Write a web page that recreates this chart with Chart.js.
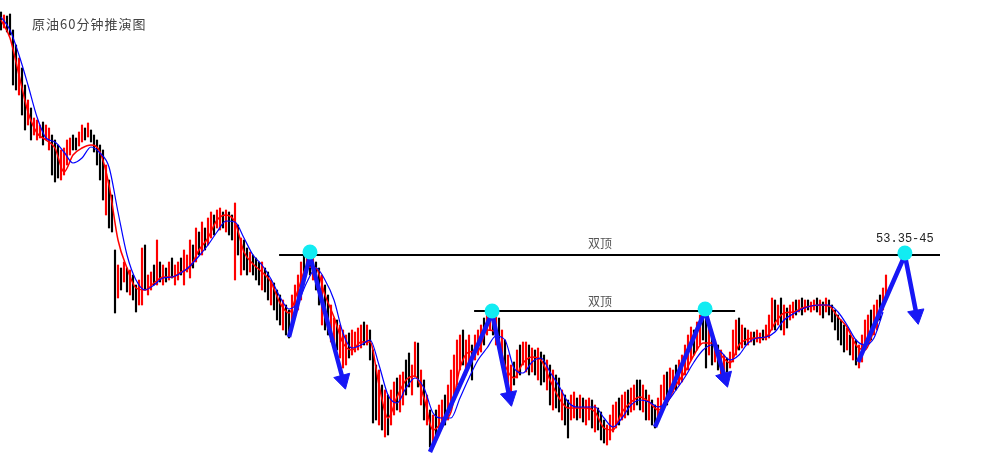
<!DOCTYPE html>
<html>
<head>
<meta charset="utf-8">
<script src="https://cdn.jsdelivr.net/npm/chart.js@4"></script>
<style>
html, body { margin: 0; padding: 0; background: #fff; }
#chart { display: block; }
</style>
</head>
<body>
<canvas id="chart" width="982" height="458"></canvas>
<script>
// 60 minute bars, high / low per bar
var barHigh = [55.78,55.75,55.74,55.76,55.60,55.45,55.32,55.22,55.05,54.90,
54.82,54.72,54.70,54.65,54.68,54.65,54.62,54.55,54.50,54.45,
54.40,54.42,54.50,54.52,54.55,54.52,54.58,54.65,54.62,54.67,
54.60,54.55,54.50,54.45,54.40,54.25,54.10,53.95,53.40,53.25,
53.22,53.28,53.22,53.20,53.15,53.05,53.10,53.42,53.45,53.15,
53.18,53.25,53.50,53.28,53.25,53.22,53.28,53.32,53.25,53.28,
53.32,53.40,53.35,53.50,53.45,53.62,53.58,53.68,53.62,53.72,
53.78,53.75,53.80,53.82,53.78,53.80,53.78,53.75,53.87,53.65,
53.52,53.50,53.42,53.38,53.35,53.32,53.28,53.28,53.22,53.18,
53.10,53.07,53.00,52.95,52.90,52.85,52.80,52.95,53.05,53.15,
53.28,53.35,53.38,53.40,53.32,53.28,53.22,53.15,53.05,52.95,
52.85,52.72,52.70,52.65,52.60,52.55,52.57,52.60,52.58,52.62,
52.65,52.68,52.65,52.60,52.40,52.25,52.20,52.05,52.00,51.95,
52.00,52.08,52.12,52.15,52.18,52.30,52.37,52.25,52.48,52.47,
52.20,52.10,51.95,51.80,51.75,51.80,51.85,51.90,51.95,52.05,
52.20,52.35,52.50,52.55,52.60,52.50,52.55,52.45,52.55,52.60,
52.65,52.72,52.80,52.85,52.80,52.75,52.72,52.60,52.50,52.35,
52.25,52.28,52.40,52.45,52.48,52.48,52.45,52.42,52.40,52.42,
52.38,52.35,52.30,52.25,52.20,52.15,52.12,52.00,51.95,51.90,
51.95,51.98,51.92,51.95,51.92,51.90,51.92,51.90,51.85,51.82,
51.78,51.70,51.65,51.75,51.85,51.88,51.92,51.95,51.98,52.00,
52.02,52.05,52.10,52.10,52.05,52.00,51.95,51.90,51.85,51.92,
52.05,52.15,52.18,52.22,52.20,52.25,52.30,52.35,52.45,52.55,
52.63,52.60,52.68,52.75,52.78,52.77,52.65,52.55,52.50,52.45,
52.40,52.35,52.32,52.38,52.60,52.70,52.72,52.65,52.62,52.60,
52.58,52.58,52.60,52.57,52.60,52.65,52.75,52.92,52.90,52.85,
52.92,52.85,52.82,52.85,52.88,52.90,52.90,52.92,52.90,52.90,
52.88,52.90,52.92,52.90,52.88,52.92,52.90,52.85,52.80,52.75,
52.70,52.65,52.62,52.55,52.52,52.50,52.45,52.55,52.70,52.75,
52.80,52.85,52.90,52.95,53.02,53.15];

var barLow = [55.60,55.62,55.58,55.55,55.05,55.00,54.95,54.75,54.60,54.65,
54.50,54.55,54.50,54.52,54.45,54.50,54.40,54.15,54.08,54.12,
54.10,54.15,54.25,54.35,54.40,54.40,54.44,54.48,54.50,54.53,
54.48,54.38,54.25,54.10,53.90,53.75,53.62,53.58,52.77,52.92,
53.00,53.08,52.98,52.95,52.90,52.78,52.85,52.85,53.00,52.95,
53.00,53.05,53.05,53.08,53.05,53.08,53.10,53.12,53.05,53.10,
53.15,53.05,53.18,53.12,53.22,53.28,53.35,53.35,53.40,53.45,
53.52,53.55,53.62,53.60,53.62,53.58,53.55,53.50,53.10,53.35,
53.15,53.20,53.15,53.18,53.15,53.10,53.05,53.00,52.98,52.90,
52.85,52.80,52.70,52.65,52.60,52.55,52.52,52.65,52.75,52.80,
52.90,53.15,53.20,53.15,53.10,53.00,52.85,52.65,52.60,52.55,
52.48,52.45,52.40,52.32,52.22,52.25,52.32,52.35,52.38,52.40,
52.42,52.45,52.45,52.30,51.67,51.70,51.65,51.60,51.53,51.55,
51.65,51.75,51.80,51.78,51.85,51.95,52.03,51.95,52.13,52.03,
51.85,51.70,51.65,51.43,51.45,51.50,51.60,51.62,51.65,51.70,
51.85,51.95,52.05,52.20,52.25,52.15,52.25,52.10,52.30,52.35,
52.38,52.45,52.55,52.60,52.55,52.45,52.40,52.25,52.15,52.00,
51.85,52.05,52.12,52.15,52.25,52.18,52.15,52.18,52.15,52.10,
52.05,52.08,52.00,51.85,51.80,51.82,51.78,51.70,51.65,51.52,
51.70,51.72,51.70,51.72,51.68,51.65,51.70,51.62,51.58,51.60,
51.50,51.47,51.45,51.50,51.58,51.62,51.65,51.70,51.72,51.75,
51.78,51.80,51.85,51.80,51.78,51.70,51.70,51.65,51.62,51.70,
51.80,51.90,51.85,51.95,51.98,52.00,52.05,52.08,52.15,52.20,
52.30,52.35,52.40,52.45,52.50,52.22,52.35,52.25,52.28,52.20,
52.15,52.12,52.18,52.22,52.28,52.35,52.40,52.42,52.45,52.45,
52.48,52.45,52.48,52.47,52.50,52.50,52.52,52.60,52.60,52.65,
52.60,52.55,52.62,52.70,52.72,52.75,52.78,52.75,52.78,52.80,
52.78,52.80,52.78,52.75,52.72,52.78,52.75,52.68,52.60,52.50,
52.45,52.38,52.40,52.35,52.30,52.25,52.22,52.28,52.40,52.45,
52.50,52.55,52.60,52.70,52.80,52.90];

// r = up bar (red), b = down bar (black)
var barKind = "brbbbbrbbr" + "brrrbrrbbb" + "rrrrbbrrbr" + "bbbbbrbbbr" + "brbrbbrrbr" +
  "rbrbrbrbrr" + "brrrbrbrbr" + "rbrrbrbbrb" + "rbbrbbbrbb" + "rbbbrbbrrr" +
  "rbrbrbbrbb" + "rrbrrrbrrr" + "rbrbbbrbrb" + "rrbrrbbrrb" + "rbrbrbrrbr" +
  "rrrrbrrbrr" + "rbrrbrbrbr" + "rbrbrrbrbr" + "bbrbrbbrbb" + "rrbrbrrbrb" +
  "bbrrrrbrrb" + "rrbbrbrbbr" + "rrbrrbrrrr" + "rbrrbbrbrb" + "rrbrrrbrbr" +
  "rbrrbrrrbr" + "brbrrbrbrb" + "rrbrbrbbbb" + "bbrbrbrrrr" + "brrbrr";

// moving averages, one value every 3 bars
var maStep = 3;
var maFast = [55.70,55.52,55.15,54.78,54.57,54.50,54.42,54.18,54.35,54.42,
54.45,54.38,54.05,53.50,53.22,53.02,53.00,53.07,53.13,53.13,
53.18,53.23,53.40,53.52,53.70,53.75,53.68,53.38,53.26,53.18,
53.08,52.87,52.77,53.00,53.23,53.22,52.95,52.73,52.47,52.40,
52.48,52.48,52.05,51.72,51.93,52.10,52.14,51.92,51.60,51.68,
51.78,52.22,52.38,52.39,52.60,52.58,52.25,52.12,52.27,52.33,
52.30,52.10,51.92,51.82,51.82,51.82,51.78,51.62,51.60,51.78,
51.88,51.93,51.88,51.80,51.87,52.05,52.18,52.35,52.47,52.47,
52.35,52.27,52.45,52.51,52.52,52.53,52.67,52.77,52.78,52.82,
52.84,52.85,52.84,52.73,52.63,52.45,52.40,52.60,52.83];
var maSlow = [55.73,55.60,55.35,55.05,54.73,54.52,54.48,54.38,54.27,54.32,
54.43,54.37,54.23,53.78,53.35,53.10,53.00,53.05,53.12,53.13,
53.17,53.24,53.34,53.45,53.58,53.69,53.68,53.52,53.35,53.25,
53.11,52.93,52.81,52.88,53.08,53.22,53.10,52.90,52.57,52.42,
52.45,52.50,52.25,51.95,51.87,52.02,52.12,52.02,51.77,51.72,
51.72,51.92,52.12,52.30,52.42,52.54,52.50,52.22,52.17,52.28,
52.32,52.18,52.04,51.88,51.83,51.83,51.83,51.72,51.63,51.72,
51.85,51.90,51.88,51.83,51.88,52.00,52.13,52.28,52.40,52.45,
52.38,52.30,52.35,52.47,52.52,52.53,52.58,52.70,52.76,52.81,
52.84,52.85,52.85,52.78,52.65,52.50,52.45,52.52,52.78];

// double top necklines
var topLevel = 53.35;
var topLineBars = [92.7, 313];
var midLevel = 52.79;
var midLineBars = [157.7, 244.7];

// tops marked with dots
var peakBars = [103, 163.7, 234.7, 301.3];
var peakPrices = [53.38, 52.79, 52.81, 53.37];

// projection arrows: start, top, head
var arrows = [
  { bars: [96, 103, 114], prices: [52.53, 53.34, 52.10], turn: 165 },
  { bars: [143, 163.7, 169.5], prices: [51.38, 52.77, 51.93], turn: 168 },
  { bars: [218, 234.7, 241.3], prices: [51.63, 52.79, 52.12], turn: 164 },
  { bars: [285.7, 301.3, 305.2], prices: [52.28, 53.35, 52.75], turn: 170 }
];

var labels = [
  { text: '双顶', bar: 199.7, price: 53.47 },
  { text: '双顶', bar: 199.7, price: 52.89 },
  { text: '53.35-45', bar: 301.3, price: 53.51 }
];
var title = '原油60分钟推演图';

var bars = [];
var colours = [];
for (var i = 0; i < barHigh.length; i++) {
  bars.push({ x: i, y: [barLow[i], barHigh[i]] });
  colours.push(barKind.charAt(i) == 'r' ? '#ff0000' : '#000000');
}

function maPoints(arr) {
  var out = [];
  for (var k = 0; k < arr.length; k++) out.push({ x: k * maStep, y: arr[k] });
  return out;
}

var datasets = [];
datasets.push({
  type: 'scatter', data: peakBars.map(function (b, k) { return { x: b, y: peakPrices[k] }; }),
  pointRadius: 7.5, pointBackgroundColor: '#12ecf2', pointBorderWidth: 0, order: 0
});
arrows.forEach(function (a) {
  datasets.push({
    type: 'line', data: a.bars.map(function (b, k) { return { x: b, y: a.prices[k] }; }),
    borderColor: '#1717f5', borderWidth: 4.5, borderJoinStyle: 'miter',
    pointRadius: [0, 0, 9.5], pointStyle: 'triangle', pointRotation: [0, 0, a.turn],
    pointBackgroundColor: '#1717f5', pointBorderColor: '#1717f5', pointBorderWidth: 1,
    order: 1
  });
});
datasets.push({
  type: 'line', data: [{ x: topLineBars[0], y: topLevel }, { x: topLineBars[1], y: topLevel }],
  borderColor: '#000', borderWidth: 2, pointRadius: 0, order: 2
});
datasets.push({
  type: 'line', data: [{ x: midLineBars[0], y: midLevel }, { x: midLineBars[1], y: midLevel }],
  borderColor: '#000', borderWidth: 2, pointRadius: 0, order: 2
});
datasets.push({
  type: 'line', data: maPoints(maSlow), borderColor: '#0000ff', borderWidth: 1.2,
  pointRadius: 0, cubicInterpolationMode: 'monotone', order: 3
});
datasets.push({
  type: 'line', data: maPoints(maFast), borderColor: '#ff0000', borderWidth: 1.5,
  pointRadius: 0, cubicInterpolationMode: 'monotone', order: 4
});
datasets.push({
  type: 'bar', data: bars, backgroundColor: colours, borderWidth: 0,
  barThickness: 1.5, order: 5
});

var textPlugin = {
  id: 'texts',
  afterDatasetsDraw: function (chart) {
    var ctx = chart.ctx;
    var xs = chart.scales.x, ys = chart.scales.y;
    ctx.save();
    ctx.textBaseline = 'middle';
    ctx.textAlign = 'left';
    ctx.fillStyle = '#444';
    ctx.font = '13px "Noto Sans CJK SC"';
    ctx.letterSpacing = '1px';
    ctx.fillText(title, 32, 24);
    ctx.letterSpacing = '0px';
    ctx.textAlign = 'center';
    labels.forEach(function (l) {
      if (l.text.charAt(0) == '5') {
        ctx.fillStyle = '#222';
        ctx.font = '12px "Liberation Mono"';
      } else {
        ctx.fillStyle = '#555';
        ctx.font = '12px "Noto Sans CJK SC"';
      }
      ctx.fillText(l.text, xs.getPixelForValue(l.bar), ys.getPixelForValue(l.price));
    });
    ctx.restore();
  }
};

new Chart(document.getElementById('chart'), {
  type: 'bar',
  data: { datasets: datasets },
  options: {
    responsive: false,
    animation: false,
    layout: { padding: 0, autoPadding: false },
    plugins: { legend: { display: false }, tooltip: { enabled: false } },
    scales: {
      x: { type: 'linear', min: -0.3333, max: 327, offset: false, display: false },
      y: { min: 51.32, max: 55.90, display: false }
    }
  },
  plugins: [textPlugin]
});
</script>
</body>
</html>
